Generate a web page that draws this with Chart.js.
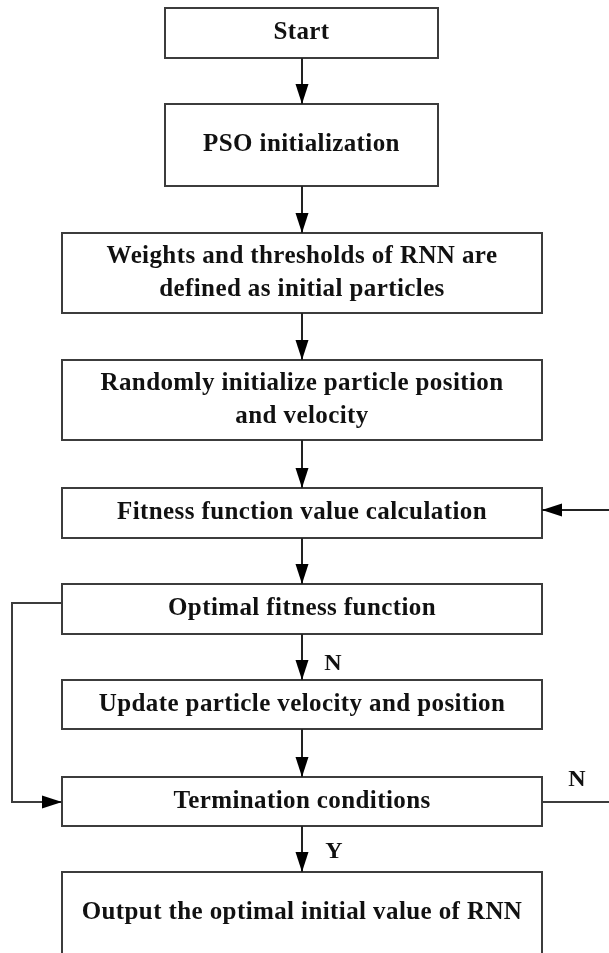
<!DOCTYPE html>
<html>
<head>
<meta charset="utf-8">
<script src="https://cdn.jsdelivr.net/npm/chart.js@4.4.1/dist/chart.umd.min.js"></script>
<style>
html,body{margin:0;padding:0;background:#fff;}
#wrap{width:609px;height:953px;position:relative;}
</style>
</head>
<body>
<div id="wrap"><canvas id="c" width="609" height="953"></canvas></div>
<script>
// ---- data: flowchart steps and edge labels ----
const stepLabels = [
  ["Start"],
  ["PSO initialization"],
  ["Weights and thresholds of RNN are", "defined as initial particles"],
  ["Randomly initialize particle position", "and velocity"],
  ["Fitness function value calculation"],
  ["Optimal fitness function"],
  ["Update particle velocity and position"],
  ["Termination conditions"],
  ["Output the optimal initial value of RNN"]
];
const edgeLabels = ["N", "N", "Y"];

// ---- layout (in chart units, x: 0..609, y: 0..953 top-down) ----
const boxX0 = [165, 165, 62, 62, 62, 62, 62, 62, 62];
const boxX1 = [438, 438, 542, 542, 542, 542, 542, 542, 542];
const boxY0 = [8, 104, 233, 360, 488, 584, 680, 777, 872];
const boxY1 = [58, 186, 313, 440, 538, 634, 729, 826, 962];
const edgeLabelPos = [[333, 664], [577, 780], [334, 852]];

const centers = stepLabels.map((_, i) => ({x: (boxX0[i] + boxX1[i]) / 2, y: (boxY0[i] + boxY1[i]) / 2}));

const flowPlugin = {
  id: 'flow',
  beforeDraw(chart) {
    const ctx = chart.ctx;
    ctx.save();
    ctx.fillStyle = '#fff';
    ctx.fillRect(0, 0, chart.width, chart.height);
    ctx.restore();
  },
  afterDraw(chart) {
    const ctx = chart.ctx;
    const sx = chart.scales.x, sy = chart.scales.y;
    const X = v => sx.getPixelForValue(v);
    const Y = v => sy.getPixelForValue(v);
    const stroke = '#3c3c3c';
    const font = "bold 25px 'Liberation Serif', 'Times New Roman', serif";
    ctx.save();
    ctx.lineWidth = 2;
    ctx.strokeStyle = stroke;
    // boxes
    for (let i = 0; i < stepLabels.length; i++) {
      const x0 = X(boxX0[i]), x1 = X(boxX1[i]), y0 = Y(boxY0[i]), y1 = Y(boxY1[i]);
      ctx.strokeRect(x0, y0, x1 - x0, y1 - y0);
    }
    // text
    ctx.fillStyle = '#111';
    ctx.font = font;
    try { ctx.letterSpacing = '0.4px'; } catch (e) {}
    ctx.textAlign = 'center';
    ctx.textBaseline = 'middle';
    for (let i = 0; i < stepLabels.length; i++) {
      const lines = stepLabels[i];
      const cx = X(centers[i].x);
      let cy = Y(centers[i].y);
      if (i === 8) cy = Y(913);
      if (lines.length === 1) {
        ctx.fillText(lines[0], cx, cy);
      } else {
        const gap = 33;
        ctx.fillText(lines[0], cx, cy - gap / 2);
        ctx.fillText(lines[1], cx, cy + gap / 2);
      }
    }
    // connectors
    function line(pts) {
      ctx.beginPath();
      ctx.moveTo(X(pts[0][0]), Y(pts[0][1]));
      for (let k = 1; k < pts.length; k++) ctx.lineTo(X(pts[k][0]), Y(pts[k][1]));
      ctx.stroke();
    }
    function head(px, py, dir) {
      const x = X(px), y = Y(py), L = 20, W = 6.5;
      ctx.beginPath();
      if (dir === 'down') { ctx.moveTo(x, y); ctx.lineTo(x - W, y - L); ctx.lineTo(x + W, y - L); }
      if (dir === 'left') { ctx.moveTo(x, y); ctx.lineTo(x + L, y - W); ctx.lineTo(x + L, y + W); }
      if (dir === 'right') { ctx.moveTo(x, y); ctx.lineTo(x - L, y - W); ctx.lineTo(x - L, y + W); }
      ctx.closePath();
      ctx.fillStyle = '#000';
      ctx.fill();
    }
    ctx.strokeStyle = '#222';
    const midX = 302;
    for (let i = 0; i < stepLabels.length - 1; i++) {
      line([[midX, boxY1[i]], [midX, boxY0[i + 1]]]);
      head(midX, boxY0[i + 1], 'down');
    }
    // feedback from right into fitness calculation
    const fy = 510;
    line([[609, fy], [boxX1[4], fy]]);
    head(boxX1[4], fy, 'left');
    // termination N to right edge
    const ty = 802;
    ctx.strokeStyle = stroke;
    line([[boxX1[7], ty], [609, ty]]);
    // loop from optimal fitness to termination
    line([[boxX0[5], 603], [12, 603], [12, ty], [boxX0[7], ty]]);
    head(boxX0[7], ty, 'right');
    // edge labels
    ctx.fillStyle = '#111';
    ctx.font = "bold 24px 'Liberation Serif', 'Times New Roman', serif";
    ctx.textAlign = 'center';
    for (let k = 0; k < edgeLabels.length; k++) {
      ctx.fillText(edgeLabels[k], X(edgeLabelPos[k][0]), Y(edgeLabelPos[k][1]));
    }
    ctx.restore();
  }
};

new Chart(document.getElementById('c'), {
  type: 'scatter',
  data: {
    datasets: [{
      data: centers,
      pointRadius: 0,
      pointHoverRadius: 0,
      showLine: false
    }]
  },
  options: {
    responsive: false,
    animation: false,
    layout: { padding: 0 },
    plugins: { legend: { display: false }, tooltip: { enabled: false } },
    scales: {
      x: { type: 'linear', min: 0, max: 609, display: false },
      y: { type: 'linear', min: 0, max: 953, reverse: true, display: false }
    }
  },
  plugins: [flowPlugin]
});
</script>
</body>
</html>
